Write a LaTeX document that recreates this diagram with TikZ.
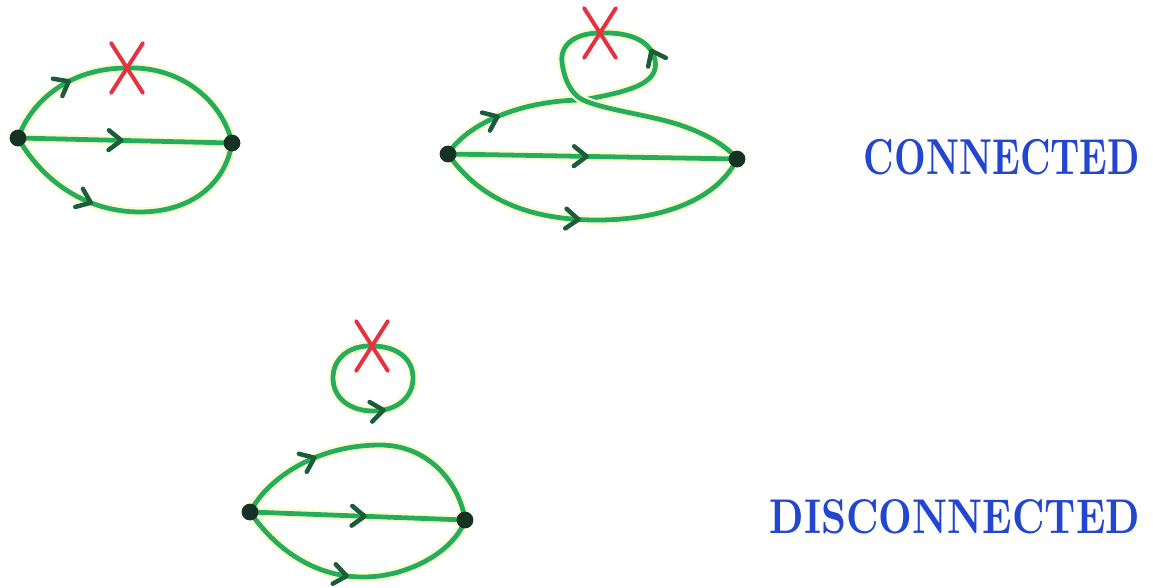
\documentclass[tikz,border=0pt]{standalone}
\usepackage{xcolor}
\usepackage{graphicx}
\usetikzlibrary{arrows.meta,decorations.markings,shapes.misc,backgrounds}

\definecolor{inkgreen}{RGB}{36,172,98}
\definecolor{inkdark}{RGB}{22,50,36}
\definecolor{inkred}{RGB}{230,50,62}
\definecolor{inkblue}{RGB}{34,70,208}
\definecolor{glow}{RGB}{252,252,200}

\begin{document}
\begin{tikzpicture}[x=0.025cm, y=-0.025cm,
  vtx/.style={circle, fill=inkdark, minimum size=0.42cm, inner sep=0pt},
  prop/.style={draw=inkgreen, line width=3.4pt, line cap=round,
    preaction={draw=glow, line width=6.5pt}},
  arrowat/.style={postaction={decorate, decoration={markings,
    mark=at position #1 with {\draw[inkdark!65!inkgreen, line width=3.2pt, line cap=round, line join=round]
      (-7pt,-7pt) -- (2pt,0pt) -- (-7pt,7pt);}}}},
  xmark/.style={cross out, draw=inkred, line width=2.8pt, line cap=round,
    minimum width=0.7cm, minimum height=1.15cm, inner sep=0pt},
  tag/.style={text=inkblue, font=\bfseries, inner sep=0pt}]

\useasboundingbox (0,0) rectangle (1153,587);

% ======================================================================
% TOP LEFT : THREE PROPAGATORS, INSERTION ON THE UPPER LINE
% ======================================================================
\node[vtx] (a1) at (18,138) {};
\node[vtx] (b1) at (232,143) {};
\node[xmark] (x1) at (127,68) {};

\begin{scope}[on background layer]
\draw[prop, arrowat=0.27] (a1.center) .. controls (32,100) and (70,68) .. (x1.center)
  .. controls (180,66) and (222,100) .. (b1.center);
\draw[prop, arrowat=0.47] (a1.center) -- (b1.center);
\draw[prop, arrowat=0.35] (a1.center) .. controls (45,185) and (90,212) .. (140,212)
  .. controls (190,212) and (225,185) .. (b1.center);
\end{scope}

% ======================================================================
% TOP MIDDLE : INSERTION ON A LOOP TIED INTO THE UPPER LINE
% ======================================================================
\node[vtx] (a2) at (448,154) {};
\node[vtx] (b2) at (737,159) {};
\node[xmark] (x2) at (600,33) {};
\coordinate (c2) at (583,100); % crossing point of the loop

\begin{scope}[on background layer]
\draw[prop, arrowat=0.4] (a2.center) .. controls (468,122) and (525,100) .. (c2);
\draw[prop, arrowat=0.38] (c2) .. controls (625,92) and (660,85) .. (655,60)
  .. controls (650,38) and (625,32) .. (x2.center)
  .. controls (575,33) and (560,45) .. (562,62)
  .. controls (564,80) and (572,95) .. (c2);
\draw[prop] (c2) .. controls (605,110) and (650,115) .. (680,125)
  .. controls (712,136) and (728,148) .. (b2.center);
\draw[prop, arrowat=0.47] (a2.center) -- (b2.center);
\draw[prop, arrowat=0.45] (a2.center) .. controls (480,200) and (530,220) .. (597,220)
  .. controls (670,220) and (720,195) .. (b2.center);
\end{scope}

% ======================================================================
% BOTTOM : SEPARATE VACUUM LOOP ABOVE THE THREE PROPAGATORS
% ======================================================================
\node[xmark] (x3) at (372,346) {};
\node[vtx] (a3) at (250,512) {};
\node[vtx] (b3) at (465,520) {};

\begin{scope}[on background layer]
\draw[prop, arrowat=0.53] (x3.center) .. controls (350,345) and (333,358) .. (333,378)
  .. controls (333,398) and (350,411) .. (373,411)
  .. controls (396,411) and (413,398) .. (413,378)
  .. controls (413,358) and (396,346) .. (x3.center);
\draw[prop, arrowat=0.3] (a3.center) .. controls (270,475) and (320,445) .. (380,445)
  .. controls (430,445) and (460,485) .. (b3.center);
\draw[prop, arrowat=0.52] (a3.center) -- (b3.center);
\draw[prop, arrowat=0.45] (a3.center) .. controls (280,555) and (320,577) .. (363,577)
  .. controls (410,577) and (455,550) .. (b3.center);
\end{scope}

% ======================================================================
% LABELS
% ======================================================================
\node[tag] (conn) at (1002,157) {\resizebox{6.9cm}{0.88cm}{CONNECTED}};
\node[tag] (disc) at (955,517) {\resizebox{9.25cm}{0.85cm}{DISCONNECTED}};

\end{tikzpicture}
\end{document}
